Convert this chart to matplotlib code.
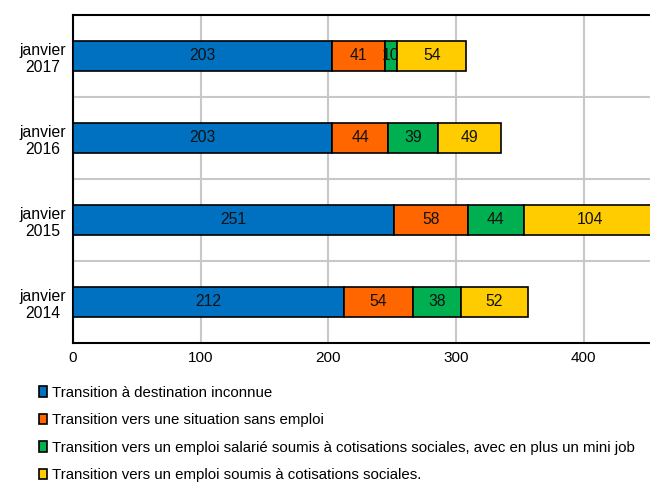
import matplotlib
matplotlib.use("Agg")
import matplotlib.pyplot as plt
from matplotlib.patches import Patch
import numpy as np

plt.rcParams['font.family'] = ['Liberation Sans', 'DejaVu Sans']

categories = ["janvier\n2014", "janvier\n2015", "janvier\n2016", "janvier\n2017"]
series_names = [
    "Transition à destination inconnue",
    "Transition vers une situation sans emploi",
    "Transition vers un emploi salarié soumis à cotisations sociales, avec en plus un mini job",
    "Transition vers un emploi soumis à cotisations sociales.",
]
inconnue = [212, 251, 203, 203]
sans_emploi = [54, 58, 44, 41]
mini_job = [38, 44, 39, 10]
cotisations = [52, 104, 49, 54]
x_ticks = [0, 100, 200, 300, 400]

series = [inconnue, sans_emploi, mini_job, cotisations]
colors = ["#0070C0", "#FF6600", "#00B050", "#FFCC00"]

fig = plt.figure(figsize=(6.5, 4.83), dpi=100)
W, H = 650, 483
left_px, top_px, bottom_px = 73, 15, 343
px_per_unit = 1.277
xmax = 500
ax = fig.add_axes([left_px / W, 1 - bottom_px / H, xmax * px_per_unit / W, (bottom_px - top_px) / H])

y = np.arange(len(categories))
left = np.zeros(len(categories))
for vals, col in zip(series, colors):
    vals = np.array(vals)
    ax.barh(y, vals, left=left, height=0.355, color=col, edgecolor="black", linewidth=1.2, zorder=3)
    for yi, l, v in zip(y, left, vals):
        ax.text(l + v / 2, yi, str(v), ha="center", va="center", fontsize=11.3, color="#111111", zorder=4)
    left += vals

ax.set_xlim(0, xmax)
ax.set_ylim(-0.5, 3.5)
ax.set_xticks(x_ticks)
ax.set_xticklabels([str(t) for t in x_ticks], fontsize=11)
ax.set_yticks(y)
ax.set_yticklabels(categories, fontsize=11.3, ha="center", multialignment="center")
ax.tick_params(axis="y", length=0, pad=22)
ax.tick_params(axis="x", length=0, pad=6)
ax.set_yticks([0.5, 1.5, 2.5], minor=True)
ax.tick_params(which="minor", length=0)
ax.grid(True, axis="x", which="major", color="#c8c8c8", linewidth=1.5, zorder=0)
ax.grid(True, axis="y", which="minor", color="#c8c8c8", linewidth=1.5, zorder=0)
ax.set_axisbelow(True)
for s in ["left", "bottom", "top"]:
    ax.spines[s].set_linewidth(1.5)
    ax.spines[s].set_color("black")
ax.spines["right"].set_visible(False)

handles = [Patch(facecolor=c, edgecolor="black", linewidth=1.2) for c in colors]
fig.legend(handles, series_names, loc="upper left", bbox_to_anchor=(0.051, 0.214),
           frameon=False, fontsize=10.8, handlelength=0.55, handleheight=0.7,
           handletextpad=0.3, labelspacing=0.9, borderaxespad=0)

fig.savefig("out.png", dpi=100)
